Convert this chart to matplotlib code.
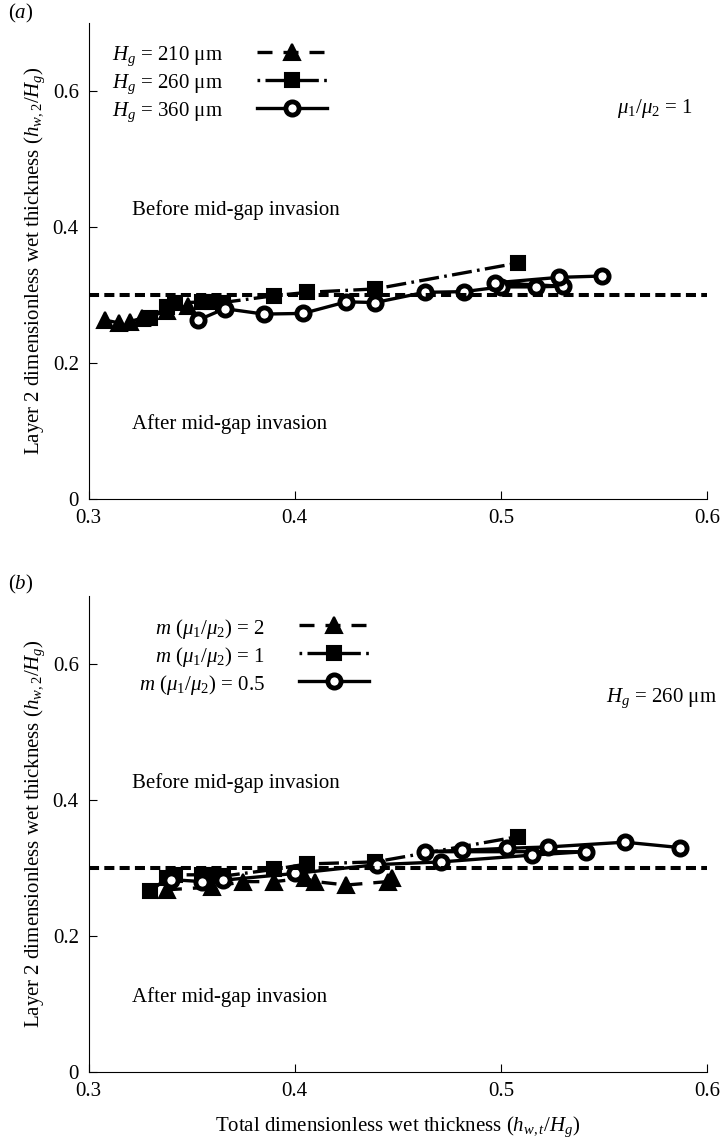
import matplotlib
matplotlib.use('Agg')
import matplotlib.pyplot as plt

plt.rcParams['font.family'] = ['Liberation Serif', 'DejaVu Serif']
plt.rcParams['mathtext.fontset'] = 'custom'
plt.rcParams['mathtext.rm'] = 'Liberation Serif'
plt.rcParams['mathtext.it'] = 'Liberation Serif:italic'
plt.rcParams['font.size'] = 15

# panel (a): gap height series
a_210_x = [0.308, 0.315, 0.320, 0.326, 0.338, 0.348]
a_210_y = [0.263, 0.259, 0.261, 0.266, 0.276, 0.284]
a_260_x = [0.330, 0.338, 0.342, 0.355, 0.360, 0.365, 0.390, 0.406, 0.439, 0.508]
a_260_y = [0.266, 0.283, 0.288, 0.290, 0.290, 0.289, 0.299, 0.304, 0.309, 0.347]
a_360_x = [0.353, 0.366, 0.385, 0.404, 0.425, 0.439, 0.463, 0.482, 0.500, 0.517,
           0.530, 0.497, 0.528, 0.549]
a_360_y = [0.263, 0.280, 0.272, 0.273, 0.290, 0.289, 0.304, 0.305, 0.312, 0.312,
           0.313, 0.318, 0.326, 0.328]

# panel (b): viscosity ratio series
b_2_x = [0.338, 0.360, 0.375, 0.390, 0.405, 0.410, 0.425, 0.445, 0.447]
b_2_y = [0.268, 0.272, 0.280, 0.280, 0.285, 0.280, 0.275, 0.280, 0.285]
b_1_x = [0.330, 0.338, 0.342, 0.355, 0.360, 0.365, 0.390, 0.406, 0.439, 0.508]
b_1_y = [0.266, 0.285, 0.290, 0.290, 0.290, 0.288, 0.298, 0.306, 0.309, 0.346]
b_05_x = [0.340, 0.355, 0.365, 0.400, 0.440, 0.471, 0.515, 0.541, 0.463, 0.481,
          0.503, 0.523, 0.560, 0.587]
b_05_y = [0.283, 0.280, 0.282, 0.292, 0.305, 0.309, 0.319, 0.324, 0.324, 0.326,
          0.329, 0.331, 0.338, 0.330]

a_labels = [r'$H_g$ = 210 μm', r'$H_g$ = 260 μm', r'$H_g$ = 360 μm']
b_labels = [r'$m$ ($\mu_1/\mu_2$) = 2', r'$m$ ($\mu_1/\mu_2$) = 1', r'$m$ ($\mu_1/\mu_2$) = 0.5']
threshold = 0.3

LW = 2.4
styles = [dict(ls=(0, (4.5, 3.3)), marker='^', mfc='k', ms=11, mew=1.5),
          dict(ls=(7.6, (6, 1.6, 0.8, 1.6)), marker='s', mfc='k', ms=10.5, mew=1.5),
          dict(ls='-', marker='o', mfc='white', ms=9.5, mew=3.5)]

fig = plt.figure(figsize=(7.22, 11.48), dpi=100)
ax_a = fig.add_axes([0.1226, 0.5653, 0.857, 0.4146])
ax_b = fig.add_axes([0.1226, 0.0662, 0.857, 0.4146])


def draw(ax, series, labels, note, note_x, note_y, text_right):
    for (x, y), st, lab in zip(series, styles, labels):
        ax.plot(x, y, color='k', lw=LW, mec='k', label=lab, **st)
    ax.axhline(threshold, color='k', lw=2.9, ls=(0, (2.5, 1.3)))
    ax.set_xlim(0.3, 0.6)
    ax.set_ylim(0, 0.7)
    ax.set_xticks([0.3, 0.4, 0.5, 0.6])
    ax.set_xticklabels(['0.3', '0.4', '0.5', '0.6'])
    ax.set_yticks([0, 0.2, 0.4, 0.6])
    ax.set_yticklabels(['0', '0.2', '0.4', '0.6'])
    ax.tick_params(direction='in', length=6, labelsize=15, pad=7)
    for s in ['top', 'right']:
        ax.spines[s].set_visible(False)
    ax.set_ylabel(r'Layer 2 dimensionless wet thickness ($h_{w,2}/H_g$)', fontsize=15)
    ax.text(0.321, 0.425, 'Before mid-gap invasion', fontsize=15, va='center')
    ax.text(0.321, 0.11, 'After mid-gap invasion', fontsize=15, va='center')
    ax.text(note_x, note_y, note, fontsize=15, va='center')
    # legend: label on the left, line sample on the right
    rows = [0.939, 0.880, 0.821]
    h0 = text_right + 0.055
    h1 = h0 + 0.113
    for lab, st, yy in zip(labels, styles, rows):
        ax.text(text_right, yy, lab, transform=ax.transAxes, ha='right',
                va='center_baseline', fontsize=15)
        ax.plot([h0, (h0 + h1) / 2, h1], [yy, yy, yy], transform=ax.transAxes,
                color='k', lw=LW, mec='k', markevery=[1], clip_on=False, **st)


draw(ax_a, [(a_210_x, a_210_y), (a_260_x, a_260_y), (a_360_x, a_360_y)],
     a_labels, r'$\mu_1/\mu_2$ = 1', 0.556, 0.575, 0.2175)
draw(ax_b, [(b_2_x, b_2_y), (b_1_x, b_1_y), (b_05_x, b_05_y)],
     b_labels, r'$H_g$ = 260 μm', 0.551, 0.55, 0.2854)
ax_b.set_xlabel(r'Total dimensionless wet thickness ($h_{w,t}/H_g$)', fontsize=15, labelpad=10)

fig.text(0.011, 0.998, '($a$)', fontsize=15, va='top')
fig.text(0.011, 0.501, '($b$)', fontsize=15, va='top')

fig.savefig('out.png', dpi=100)
